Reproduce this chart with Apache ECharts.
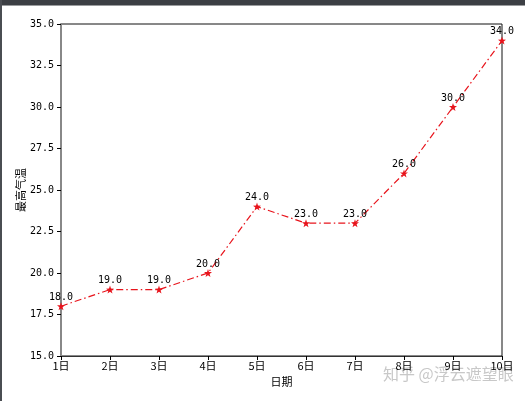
<!DOCTYPE html>
<html>
<head>
<meta charset="utf-8">
<script src="https://cdn.jsdelivr.net/npm/echarts@6/dist/echarts.min.js"></script>
<style>
  html, body { margin: 0; padding: 0; background: #fff; }
  #chart { width: 525px; height: 401px; }
</style>
</head>
<body>
<div id="chart"></div>
<script>
// 日期和最高气温
const days = ['1日', '2日', '3日', '4日', '5日', '6日', '7日', '8日', '9日', '10日']
const maxTemp = [18, 19, 19, 20, 24, 23, 23, 26, 30, 34]
const yMin = 15
const yMax = 35
const yStep = 2.5

const font = '"Noto Sans CJK SC", "DejaVu Sans", sans-serif'
const numFont = '"DejaVu Sans Mono", "Noto Sans CJK SC", monospace'

const chart = echarts.init(document.getElementById('chart'))

const option = {
  backgroundColor: '#fff',
  animation: false,
  grid: {
    left: 61, right: 23, top: 24, bottom: 45,
    show: true,
    borderColor: '#111',
    borderWidth: 1
  },
  xAxis: {
    type: 'category',
    data: days,
    boundaryGap: false,
    name: '日期',
    nameLocation: 'middle',
    nameGap: 20,
    nameTextStyle: { color: '#000', fontSize: 11, fontFamily: font },
    axisLine: { lineStyle: { color: '#333', width: 1 } },
    axisTick: { length: 4, lineStyle: { color: '#000' } },
    axisLabel: { color: '#000', fontSize: 11, fontFamily: font, margin: 4 },
    splitLine: { show: false }
  },
  yAxis: {
    type: 'value',
    min: yMin,
    max: yMax,
    interval: yStep,
    name: '最高气温',
    nameLocation: 'middle',
    nameGap: 35,
    nameMoveOverlap: false,
    nameRotate: 90,
    nameTextStyle: { color: '#000', fontSize: 11, fontFamily: font },
    axisLine: { show: true, lineStyle: { color: '#888', width: 2 } },
    axisTick: { show: true, length: 4, lineStyle: { color: '#000' } },
    axisLabel: {
      color: '#000', fontSize: 10, fontFamily: numFont, margin: 7,
      formatter: v => v.toFixed(1)
    },
    splitLine: { show: false }
  },
  series: [{
    type: 'line',
    data: maxTemp,
    symbol: 'path://M0,-10 L2.35,-3.24 L9.51,-3.09 L3.8,1.24 L5.88,8.09 L0,4 L-5.88,8.09 L-3.8,1.24 L-9.51,-3.09 L-2.35,-3.24 Z',
    symbolSize: 8,
    itemStyle: { color: '#e8141c' },
    lineStyle: { color: '#e8141c', width: 1.2, type: [7, 3, 1.5, 3] },
    label: {
      show: true,
      position: 'top',
      distance: 0,
      color: '#000',
      fontSize: 10,
      fontFamily: numFont,
      formatter: p => p.value.toFixed(1)
    }
  }],
  graphic: [
    { type: 'rect', left: 0, top: 0, shape: { width: 525, height: 5 }, style: { fill: '#3c3f44' } },
    { type: 'rect', left: 0, top: 5, shape: { width: 525, height: 1 }, style: { fill: '#9a9c9e' } },
    { type: 'rect', left: 0, top: 0, shape: { width: 2, height: 401 }, style: { fill: '#4a4d52' } },
    {
      type: 'text', left: 383, top: 366,
      style: { text: '知乎 @浮云遮望眼', fill: '#c8c8c8', fontSize: 16, fontFamily: font }
    }
  ]
}

chart.setOption(option)
</script>
</body>
</html>
